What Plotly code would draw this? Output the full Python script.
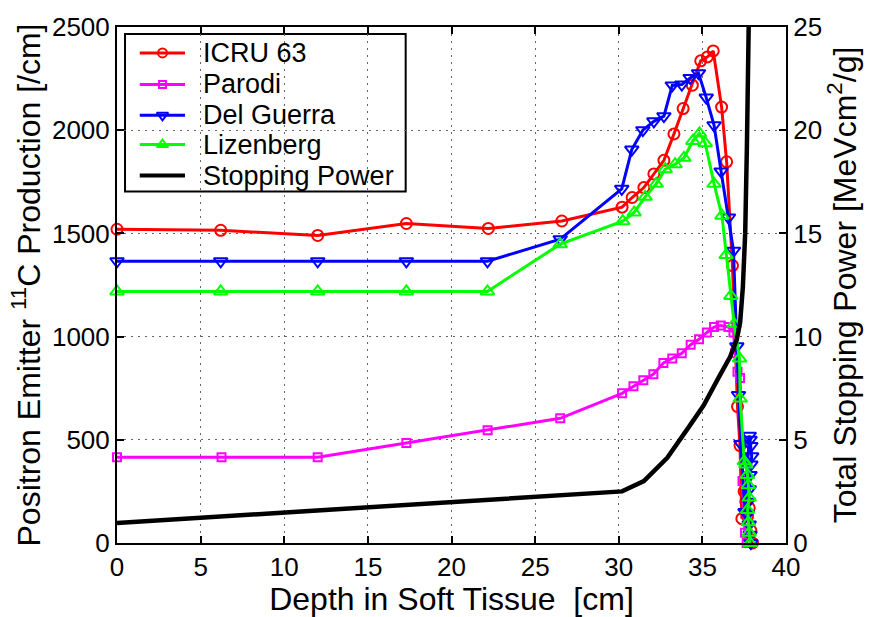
import plotly.graph_objects as go

# ---- data ----
icru_x = [0, 6.2, 12.0, 17.3, 22.2, 26.6, 30.2, 30.8, 31.5, 32.1, 32.7, 33.3, 33.85, 34.4,
          34.9, 35.3, 35.65, 36.15, 36.45, 36.8, 37.1, 37.25, 37.36, 37.5, 37.6, 37.7, 37.8, 37.9, 38.0]
icru_y = [1520, 1515, 1490, 1548, 1524, 1560, 1627, 1674, 1722, 1788, 1854, 1982, 2105, 2218,
          2336, 2355, 2384, 2112, 1847, 1344, 661, 472, 118, 250, 200, 130, 170, 60, 0]

parodi_x = [0, 6.25, 12.0, 17.3, 22.16, 26.5, 30.2, 30.88, 31.47, 32.07, 32.67, 33.2, 33.77, 34.3,
            34.8, 35.27, 35.7, 36.1, 36.56, 36.86, 36.96, 37.1, 37.25, 37.4, 37.55, 37.65]
parodi_y = [415, 415, 415, 485, 546, 604, 725, 759, 788, 818, 872, 894, 919, 961,
            987, 1020, 1046, 1054, 1046, 1020, 919, 830, 800, 300, 50, 0]

delg_x = [0, 6.2, 12.0, 17.3, 22.15, 26.5, 30.18, 30.78, 31.44, 32.1, 32.7, 33.2, 33.77, 34.27,
          34.77, 35.23, 35.7, 36.12, 36.56, 36.86, 37.06, 37.16, 37.3, 37.55, 37.8, 37.85, 37.9,
          37.95, 37.9, 37.85, 37.8, 37.75, 37.7, 37.8, 37.85, 37.9]
delg_y = [1365, 1365, 1365, 1365, 1365, 1472, 1716, 1906, 2000, 2043, 2068, 2217, 2221, 2253,
          2276, 2158, 2024, 1800, 1577, 1416, 953, 717, 480, 150, 520, 500, 470,
          420, 380, 330, 260, 200, 140, 90, 40, 0]

liz_x = [0, 6.2, 12.0, 17.3, 22.15, 26.5, 30.24, 30.92, 31.58, 32.24, 32.78, 33.37, 33.9, 34.43,
         34.83, 35.17, 35.7, 36.17, 36.42, 36.7, 36.9, 37.22, 37.26, 37.5, 37.6, 37.7, 37.75,
         37.8, 37.7, 37.75, 37.8, 37.85]
liz_y = [1219, 1219, 1219, 1219, 1219, 1448, 1559, 1601, 1677, 1740, 1811, 1835, 1866, 1948,
         1985, 1937, 1740, 1586, 1395, 1197, 1062, 894, 700, 396, 380, 330, 280,
         220, 160, 100, 50, 0]

sp_x = [0, 30.2, 31.5, 32.9, 34.07, 35.07, 35.97, 36.66, 37.06, 37.26, 37.42, 37.56, 37.66,
        37.75, 37.82, 37.86]
sp_y = [0.97, 2.5, 3.0, 4.13, 5.48, 6.66, 8.01, 9.02, 9.87, 10.7, 12.4, 15.0, 19.1,
        23.4, 25.5, 30.0]

series_names = ["ICRU 63", "Parodi", "Del Guerra", "Lizenberg", "Stopping Power"]

x_ticks = [0, 5, 10, 15, 20, 25, 30, 35, 40]
y_ticks = [0, 500, 1000, 1500, 2000, 2500]
y2_ticks = [0, 5, 10, 15, 20, 25]

FONT = "Liberation Sans, Arial, sans-serif"

styles = [
    dict(color="#ff0000", symbol="circle-open", size=11),
    dict(color="#ff00ff", symbol="square-open", size=8),
    dict(color="#0000ff", symbol="triangle-down-open", size=12),
    dict(color="#00ff00", symbol="triangle-up-open", size=12),
]

fig = go.Figure()

data = [(icru_x, icru_y), (parodi_x, parodi_y), (delg_x, delg_y), (liz_x, liz_y)]
for (x, y), name, st in zip(data, series_names[:4], styles):
    fig.add_trace(go.Scatter(
        x=x, y=y, name=name, mode="lines+markers", showlegend=False,
        line=dict(color=st["color"], width=3),
        marker=dict(symbol=st["symbol"], size=st["size"], color=st["color"],
                    line=dict(color=st["color"], width=2)),
        cliponaxis=False,
    ))

fig.add_trace(go.Scatter(
    x=sp_x, y=sp_y, name=series_names[4], mode="lines", showlegend=False,
    line=dict(color="black", width=4.5), yaxis="y2",
))

# ---- legend drawn in a hidden overlay axis (fraction of plot area) ----
leg_x0, leg_x1 = 0.012, 0.4315
leg_y0, leg_y1 = 0.681, 0.9864
row_y = [0.9498, 0.8888, 0.8290, 0.7722, 0.7122]
samp_x0, samp_x1, samp_xm = 0.034, 0.1016, 0.0680
text_x = 0.1256

fig.add_shape(type="rect", xref="paper", yref="paper",
              x0=leg_x0, x1=leg_x1, y0=leg_y0, y1=leg_y1,
              line=dict(color="black", width=2), fillcolor="white", layer="between")

for i, name in enumerate(series_names):
    if i < 4:
        st = styles[i]
        fig.add_trace(go.Scatter(
            x=[samp_x0, samp_x1], y=[row_y[i], row_y[i]], mode="lines",
            line=dict(color=st["color"], width=3), showlegend=False,
            xaxis="x3", yaxis="y3", hoverinfo="skip"))
        fig.add_trace(go.Scatter(
            x=[samp_xm], y=[row_y[i]], mode="markers", showlegend=False,
            marker=dict(symbol=st["symbol"], size=max(st["size"] - 2, 7), color=st["color"],
                        line=dict(color=st["color"], width=2)),
            xaxis="x3", yaxis="y3", hoverinfo="skip"))
    else:
        fig.add_trace(go.Scatter(
            x=[samp_x0, samp_x1], y=[row_y[i], row_y[i]], mode="lines",
            line=dict(color="black", width=4), showlegend=False,
            xaxis="x3", yaxis="y3", hoverinfo="skip"))
    fig.add_annotation(x=text_x, y=row_y[i], xref="paper", yref="paper",
                       text=name, showarrow=False, xanchor="left", yanchor="middle",
                       font=dict(family=FONT, size=27, color="black"))

axis_common = dict(
    showline=True, linecolor="black", linewidth=2,
    ticks="inside", ticklen=7, tickwidth=1.5, tickcolor="black",
    tickfont=dict(family=FONT, size=26, color="black"),
    zeroline=False,
)
grid = dict(showgrid=True, gridcolor="#666666", griddash="2px,5px", gridwidth=1)

fig.update_layout(
    width=874, height=617,
    margin=dict(l=117, r=88, t=20, b=69),
    paper_bgcolor="white", plot_bgcolor="white",
    font=dict(family=FONT, color="black"),
    showlegend=False,
    xaxis=dict(
        range=[0, 40], tickvals=x_ticks, mirror="ticks",
        title=dict(text="Depth in Soft Tissue  [cm]",
                   font=dict(family=FONT, size=32), standoff=0),
        **grid, **axis_common,
    ),
    yaxis=dict(
        range=[0, 2500], tickvals=y_ticks,
        title=dict(text="Positron Emitter <sup>11</sup>C Production [/cm]",
                   font=dict(family=FONT, size=32), standoff=2),
        **grid, **axis_common,
    ),
    yaxis2=dict(
        range=[0, 25], tickvals=y2_ticks, overlaying="y", side="right",
        showgrid=False,
        title=dict(text="Total Stopping Power [MeVcm<sup>2</sup>/g]",
                   font=dict(family=FONT, size=32), standoff=2),
        **axis_common,
    ),
    xaxis3=dict(range=[0, 1], overlaying="x", visible=False, fixedrange=True),
    yaxis3=dict(range=[0, 1], overlaying="y", visible=False, fixedrange=True),
)

fig.write_html("out.html")
